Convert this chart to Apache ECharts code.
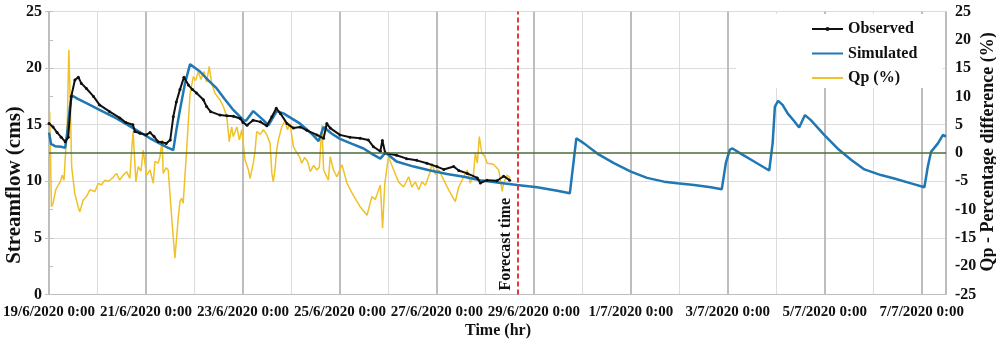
<!DOCTYPE html>
<html>
<head>
<meta charset="utf-8">
<script src="https://cdn.jsdelivr.net/npm/echarts@6/dist/echarts.min.js"></script>
<style>html,body{margin:0;padding:0;background:#fff}#c{width:996px;height:340px}</style>
</head>
<body>
<div id="c"></div>
<script>
// hours since 19/6/2020 0:00
const dateLabels = ['19/6/2020 0:00','21/6/2020 0:00','23/6/2020 0:00','25/6/2020 0:00','27/6/2020 0:00','29/6/2020 0:00','1/7/2020 0:00','3/7/2020 0:00','5/7/2020 0:00','7/7/2020 0:00'];
const forecastHour = 232;

const obsHours = [0,2,4,6,8,9.5,11,12.8,14.5,16,18.5,22,25,30,35,38,41.5,42.5,45,48,50,52,54,56,58,60,61.5,63,64.8,66.8,69,71,73,76.4,78,80,84.6,88,91.3,94.6,96,98,101,104.6,107.8,110.3,112.5,114.5,117.8,121,124.3,127.6,132.6,135.9,137.5,139.2,144,149,154,158,160.6,164,165,166.4,172,177,182,187,192,195.4,200.3,202.8,207,212,213.5,216.8,221.8,225,228];
const obsFlow  = [15.1,14.8,14.3,13.9,13.5,13.9,17.5,18.95,19.2,18.65,18.2,17.5,16.75,16.15,15.6,15.2,15.0,14.4,14.25,14.1,14.3,13.95,13.5,13.45,13.35,13.65,15.7,17.0,18.1,19.2,18.5,18.1,17.8,17.2,16.6,16.15,15.85,15.8,15.75,15.55,15.2,14.95,15.4,15.25,14.9,15.7,16.45,16.0,15.1,14.7,14.8,14.5,14.1,13.8,15.1,14.7,14.1,13.9,13.8,13.65,13.05,12.65,13.6,12.5,12.3,12.0,11.85,11.6,11.3,11.05,11.3,10.95,10.7,10.3,9.85,10.1,10.05,10.45,10.1];

const simHours = [0,1,3,6,8,9,10.3,11.2,14,18.5,25,33.4,41.6,50,58,61.5,63,64.8,67.3,69.8,74.7,79,83,87,91.2,96.2,97.5,101.1,106.1,108.6,112.7,116,124.3,130,133.4,135.9,140,144,150,155.7,160,164,166.5,172,180.5,188.7,197,205.3,213.5,221.8,231.7,241.6,251.6,257.8,259.5,261,264.8,271.4,279.6,288,296,304.4,311,319.3,327.6,333,335,337,338.3,342.4,349,356.5,358.2,359.3,360.9,363.1,365.6,368.9,371.3,374.2,377.1,383.7,390.3,397,403.6,411.8,418.4,426.7,433.3,435,436.6,440,442.5,443.3,444];
const simFlow  = [14.3,13.3,13.1,13.05,12.95,14.3,16.5,17.6,17.3,16.9,16.3,15.55,14.7,13.8,13.05,12.75,14.5,16.3,18.65,20.35,19.7,18.9,18.2,17.25,16.3,15.4,15.35,16.2,15.4,14.95,16.2,16.0,15.1,14.2,13.55,14.8,14.2,13.75,13.3,12.9,12.4,12.0,12.55,11.75,11.3,10.95,10.65,10.4,10.1,9.9,9.67,9.47,9.17,8.94,11.5,13.8,13.35,12.45,11.6,10.85,10.3,9.97,9.82,9.67,9.47,9.29,11.6,12.8,12.9,12.45,11.75,10.95,13.4,16.6,17.1,16.75,16.0,15.3,14.75,15.85,15.4,14.1,12.9,11.9,11.05,10.55,10.25,9.82,9.47,11.3,12.6,13.35,14.1,14.1,13.95];

const qpHours = [0.3,1.2,2,3.3,4.5,5.6,6.5,7.4,8.3,9,9.8,10.5,11.2,12.7,14.4,15.2,16.9,18.5,20.2,22.7,24.3,26,27.6,29.5,31.7,33.4,35,36.5,38.4,40,40.9,41.6,43,44.1,45.5,46.6,48.3,50,51.6,52.4,54,54.9,56,56.5,58,59,60.7,62.3,64,64.8,65.6,66.4,68.1,69.8,71.4,72.5,73.9,75.2,76.7,78,79.3,80.5,82.2,84.6,86.3,88,89.2,90.4,91.2,93,94.2,95.4,97,98.7,99.5,101.1,102,102.8,104.5,106.1,107.7,109.4,110.3,111,111.8,112.7,113.5,115.2,116.9,118,119.3,121,122.7,124,125.1,126.5,128,129.3,131,132.6,133.8,135.1,135.9,138.3,139.2,140.8,142.5,145,147.5,150,154,157.4,159.8,161.5,164,165.1,166.2,168,170.6,173,175.5,178,179.6,181.3,183,184.6,186.3,188.7,189.6,191.3,193,195.4,197.8,201.1,202.8,205.3,207,208.5,210,211,212,213,214.2,215.7,216.9,220,222.6,224.3,225,226.8,228.4];
const qpPct    = [7.3,-9.5,-8.9,-6.5,-5.7,-5.1,-3.9,-4.8,-4.5,5,18.2,9.0,-2.4,-7.1,-9.5,-10.4,-8.3,-7.7,-6.5,-6.8,-5.4,-5.6,-4.8,-5.0,-4.3,-3.6,-4.8,-4.0,-3.3,-4.5,0.5,3.8,-5.1,-2.4,-3.2,0.5,-3.9,-3.0,-5.35,-1.5,-1.8,-0.65,2.3,-3.6,-2.6,-3.0,-11.3,-18.6,-11.3,-8.6,-8.0,-8.9,0.5,10.5,13.5,12.8,14.4,13.0,14.4,12.5,15.3,12.3,10.5,9.4,8.2,6.4,2.0,4.6,2.9,4.6,2.3,4.1,-1.2,-3.0,-4.5,-1.8,0.5,3.8,3.3,4.1,3.3,1.7,-3.6,-5.1,-3.0,0.5,2.3,4.6,5.8,4.1,5.2,1.1,0,-0.65,-1.8,-0.8,-1.5,-3.3,-2.2,-3.0,-2.5,4.9,-3.0,-4.8,-0.65,-3.0,-4.2,-2.1,-5.35,-7.1,-9.5,-11.0,-7.7,-8.2,-5.65,-13.3,-5.4,-0.65,-3.0,-5.1,-6.0,-4.2,-6.0,-5.1,-6.5,-5.1,-5.7,-3.3,-1.8,-3.8,-3.0,-4.8,-6.5,-8.6,-6.0,-4.2,-3.0,-5.35,-4.2,0,-1.8,2.9,0,-0.6,-1.8,-2.0,-3.0,-6.8,-5.35,-3.9,-4.5];

const pairs = (xs, ys) => xs.map((x, i) => [x, ys[i]]);

const FONT = '"Liberation Serif", "Times New Roman", serif';
const chart = echarts.init(document.getElementById('c'));
chart.setOption({
  animation: false,
  backgroundColor: '#fff',
  grid: {left: 49, right: 50, top: 11.5, bottom: 45.5},
  legend: {
    data: [
      {name: 'Observed'},
      {name: 'Simulated', itemStyle: {opacity: 0}},
      {name: 'Qp (%)', itemStyle: {opacity: 0}}
    ],
    orient: 'vertical', left: 736, top: 14,
    itemWidth: 31, itemHeight: 5, itemGap: 8.5,
    backgroundColor: '#fff', padding: [7, 25, 2, 75],
    textStyle: {fontFamily: FONT, fontWeight: 'bold', fontSize: 16, color: '#111'}
  },
  xAxis: [{
    type: 'value', min: 0, max: 444, interval: 24,
    axisLine: {show: true, lineStyle: {color: '#bfbfbf', width: 1}},
    axisTick: {show: false},
    splitLine: {show: true, lineStyle: {color: '#dcdcdc', width: 1}},
    axisLabel: {
      margin: 10, fontFamily: FONT, fontWeight: 'bold', fontSize: 15, color: '#111',
      formatter: v => (v % 48 === 0 ? dateLabels[v / 48] : '')
    }
  }, {
    type: 'value', min: 0, max: 444, interval: 48, position: 'bottom',
    axisLine: {show: false}, axisTick: {show: false}, axisLabel: {show: false},
    splitLine: {show: true, lineStyle: {color: '#bdbdbd', width: 2}}
  }],
  yAxis: [{
    type: 'value', min: 0, max: 25, interval: 5, position: 'left',
    axisLine: {show: true, lineStyle: {color: '#bfbfbf'}},
    axisTick: {show: true, length: 4, lineStyle: {color: '#bfbfbf'}},
    splitLine: {show: true, lineStyle: {color: '#dcdcdc', width: 1}},
    axisLabel: {margin: 7, fontFamily: FONT, fontWeight: 'bold', fontSize: 16, color: '#111'}
  }, {
    type: 'value', min: -25, max: 25, interval: 5, position: 'right',
    axisLine: {show: true, lineStyle: {color: '#bfbfbf'}},
    axisTick: {show: true, length: 4, lineStyle: {color: '#bfbfbf'}},
    splitLine: {show: false},
    axisLabel: {margin: 9, fontFamily: FONT, fontWeight: 'bold', fontSize: 16, color: '#111'}
  }],
  graphic: [
    {type: 'text', x: 14.5, y: 185, rotation: Math.PI / 2, z: 100,
     style: {text: 'Streamflow (cms)', font: 'bold 21px ' + FONT, fill: '#111', align: 'center', verticalAlign: 'middle'}},
    {type: 'text', x: 988, y: 152, rotation: Math.PI / 2, z: 100,
     style: {text: 'Qp - Percentage difference (%)', font: 'bold 18px ' + FONT, fill: '#111', align: 'center', verticalAlign: 'middle'}},
    {type: 'text', x: 498, y: 331, z: 100,
     style: {text: 'Time (hr)', font: 'bold 16px ' + FONT, fill: '#111', align: 'center', verticalAlign: 'middle'}}
  ],
  series: [{
    name: 'Qp (%)', type: 'line', xAxisIndex: 0, yAxisIndex: 1,
    data: pairs(qpHours, qpPct), showSymbol: false, symbol: 'none',
    lineStyle: {color: '#f0c128', width: 1.5}, itemStyle: {color: '#f0c128'},
    markLine: {
      silent: true, symbol: 'none', animation: false,
      data: [
        {yAxis: 0, lineStyle: {color: '#4d6b3c', width: 1.5, type: 'solid'}, label: {show: false}},
        {xAxis: forecastHour, lineStyle: {color: '#e0393e', width: 2, type: [5, 3]},
         label: {show: true, formatter: 'Forecast time', position: 'insideStartTop', distance: 4,
                 fontFamily: FONT, fontWeight: 'bold', fontSize: 16, color: '#111'}}
      ]
    }
  }, {
    name: 'Simulated', type: 'line', xAxisIndex: 0, yAxisIndex: 0,
    data: pairs(simHours, simFlow), showSymbol: false, symbol: 'none',
    lineStyle: {color: '#1f78b4', width: 2.5}, itemStyle: {color: '#1f78b4'}
  }, {
    name: 'Observed', type: 'line', xAxisIndex: 0, yAxisIndex: 0,
    data: pairs(obsHours, obsFlow), showSymbol: true, symbol: 'circle', symbolSize: 3,
    lineStyle: {color: '#111', width: 2}, itemStyle: {color: '#111'}
  }]
});
</script>
</body>
</html>
